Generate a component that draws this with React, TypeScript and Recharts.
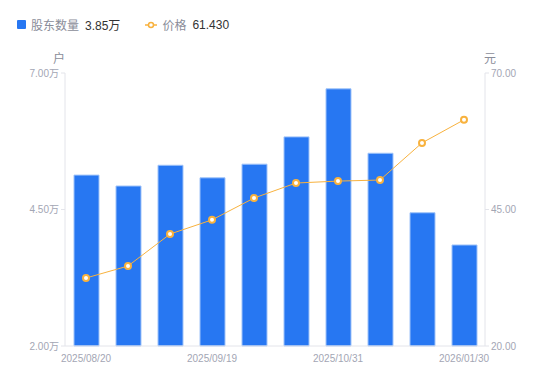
import React from "react";
import { ComposedChart, Bar, Line, XAxis, YAxis } from "recharts";

const dates = [
  "2025/08/20", "2025/08/31", "2025/09/10", "2025/09/19", "2025/09/30",
  "2025/10/20", "2025/10/31", "2025/11/30", "2025/12/31", "2026/01/30",
];
const holders = [5.13, 4.93, 5.31, 5.08, 5.33, 5.83, 6.71, 5.53, 4.44, 3.85];
const prices = [32.45, 34.65, 40.5, 43.1, 47.1, 49.85, 50.2, 50.4, 57.2, 61.43];
const leftTicks = [2, 4.5, 7];
const rightTicks = [20, 45, 70];

const data = dates.map((d, i) => ({ date: d, holders: holders[i], price: prices[i] }));

const FONT = "'Liberation Sans', Arial, 'Noto Sans CJK SC', sans-serif";
const AXIS = "#e3e4ea";
const TICK = "#a3a6b4";
const BLUE = "#2777F2";
const ORANGE = "#F8B23E";

export default function App() {
  return (
    <div style={{ position: "absolute", left: 0, top: 0, width: 550, height: 381, fontFamily: FONT, background: "#fff" }}>
      <div style={{ position: "absolute", left: 17, top: 16, display: "flex", alignItems: "center", fontSize: 12, whiteSpace: "nowrap" }}>
        <span style={{ display: "inline-block", width: 9, height: 9, background: BLUE, borderRadius: 1, marginRight: 5 }} />
        <span style={{ color: "#8a8d99" }}>股东数量</span>
        <span style={{ color: "#333", marginLeft: 6 }}>3.85万</span>
        <svg width="12" height="10" style={{ marginLeft: 25, marginRight: 5 }}>
          <line x1="0" y1="5" x2="12" y2="5" stroke={ORANGE} strokeWidth="1.5" />
          <circle cx="6" cy="5" r="2.5" fill="#fff" stroke={ORANGE} strokeWidth="1.5" />
        </svg>
        <span style={{ color: "#8a8d99" }}>价格</span>
        <span style={{ color: "#333", marginLeft: 6 }}>61.430</span>
      </div>
      <div style={{ position: "absolute", left: 53, top: 49, fontSize: 12, color: "#8a8d99" }}>户</div>
      <div style={{ position: "absolute", left: 484, top: 49, fontSize: 12, color: "#8a8d99" }}>元</div>
      <ComposedChart
        width={550}
        height={381}
        data={data}
        margin={{ top: 73, right: 0, bottom: 5, left: 0 }}
        barCategoryGap={17}
      >
        <XAxis
          dataKey="date"
          interval={2}
          tickLine={false}
          axisLine={{ stroke: AXIS }}
          tick={{ fill: TICK, fontSize: 10, fontFamily: FONT }}
          height={30}
          tickMargin={3}
        />
        <YAxis
          yAxisId="left"
          orientation="left"
          width={65}
          domain={[2, 7]}
          ticks={leftTicks}
          tickFormatter={(v: number) => v.toFixed(2) + "万"}
          axisLine={{ stroke: AXIS }}
          tickLine={{ stroke: AXIS }}
          tickSize={4}
          tick={{ fill: TICK, fontSize: 10, fontFamily: FONT }}
        />
        <YAxis
          yAxisId="right"
          orientation="right"
          width={65}
          domain={[20, 70]}
          ticks={rightTicks}
          tickFormatter={(v: number) => v.toFixed(2)}
          axisLine={{ stroke: AXIS }}
          tickLine={{ stroke: AXIS }}
          tickSize={4}
          tick={{ fill: TICK, fontSize: 10, fontFamily: FONT }}
        />
        <Bar
          yAxisId="left"
          dataKey="holders"
          fill={BLUE}
          stroke="#9fc3f9"
          strokeWidth={1}
          barSize={25}
          isAnimationActive={false}
        />
        <Line
          yAxisId="right"
          dataKey="price"
          stroke={ORANGE}
          strokeWidth={1}
          dot={{ r: 3, fill: "#fff", stroke: ORANGE, strokeWidth: 2 }}
          isAnimationActive={false}
        />
      </ComposedChart>
    </div>
  );
}
